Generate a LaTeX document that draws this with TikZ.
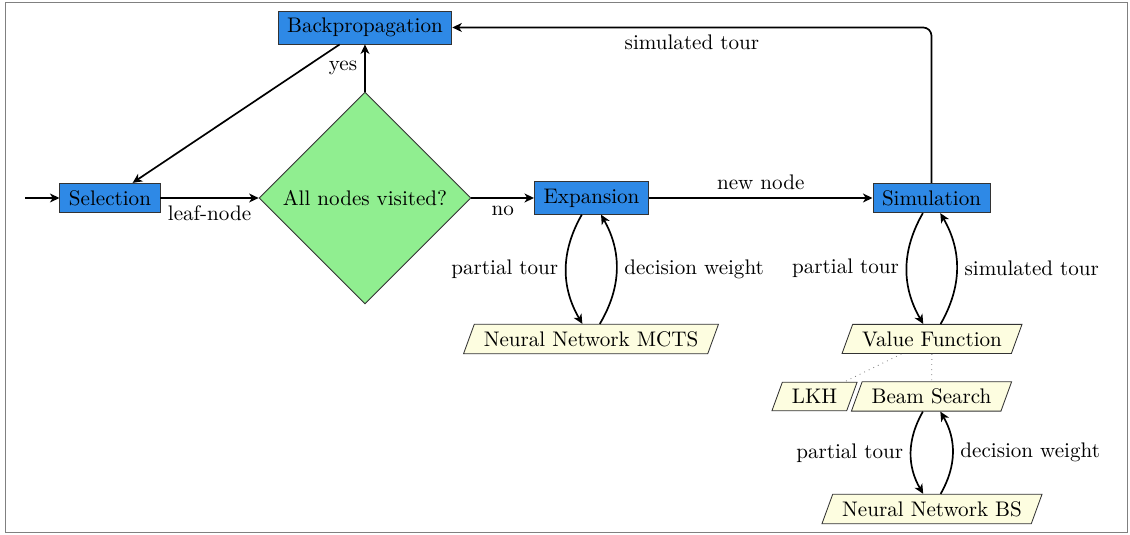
\documentclass[tikz,border=0pt]{standalone}
\usepackage{tikz}
\usetikzlibrary{shapes.geometric,arrows.meta}

\definecolor{phaseblue}{RGB}{46,137,230}
\definecolor{checkgreen}{RGB}{144,238,144}
\definecolor{ioyellow}{RGB}{253,253,224}

\tikzset{
  phase/.style={rectangle, draw=black!80, fill=phaseblue, inner xsep=4.3pt},
  decision/.style={diamond, draw=black!80, fill=checkgreen, minimum width=3.53cm, minimum height=3.53cm, inner sep=0pt},
  io/.style={trapezium, trapezium left angle=70, trapezium right angle=110, draw=black!80, fill=ioyellow, inner xsep=4.5pt},
  link/.style={-{Stealth[length=4.5pt, width=4.2pt, inset=1.3pt]}, thick},
  hint/.style={dotted, gray}
}

\begin{document}
\begin{tikzpicture}
	\useasboundingbox (0,0) rectangle (18.833,8.9);
	\draw [gray] (0.083,0.033) rectangle (18.783,8.867);

% search loop
\node[phase] (backprop) at (6.083,8.442) {Backpropagation};
\node[phase] (select) at (1.833,5.6) {Selection};
\node[decision] (visited) at (6.083,5.6) {All nodes visited?};
\node[phase] (expand) at (9.858,5.6) {Expansion};
\node[phase] (simulate) at (15.525,5.6) {Simulation};
\coordinate (start) at (0.417,5.6);

% models behind expansion and simulation
\node[io] (nnmcts) at (9.85,3.25) {Neural Network MCTS};
\node[io] (valuefn) at (15.533,3.25) {Value Function};
\node[io] (lkh) at (13.575,2.292) {LKH};
\node[io] (beam) at (15.525,2.292) {Beam Search};
\node[io] (nnbs) at (15.533,0.417) {Neural Network BS};

\draw [link] (start) -- (select);
\draw [link] (select) -- node[below]{leaf-node} (visited);
\draw [link] (visited) -- node[left]{yes} (backprop);
\draw [link] (visited) -- node[below]{no} (expand);
\draw [link] (expand) -- node[above]{new node} (simulate);
\draw [link] (backprop) -- (select);
\draw [link, rounded corners] (simulate) |- node[below, pos=0.75]{simulated tour} (backprop);

\draw [link] (expand) to[bend right=30] node[left]{partial tour} (nnmcts);
\draw [link] (nnmcts) to[bend right=30] node[right]{decision weight} (expand);
\draw [link] (simulate) to[bend right=30] node[left]{partial tour} (valuefn);
\draw [link] (valuefn) to[bend right=30] node[right]{simulated tour} (simulate);
\draw [link] (beam) to[bend right=30] node[left]{partial tour} (nnbs);
\draw [link] (nnbs) to[bend right=30] node[right]{decision weight} (beam);

\draw [hint] (valuefn) -- (lkh);
\draw [hint] (valuefn) -- (beam);

\end{tikzpicture}
\end{document}
